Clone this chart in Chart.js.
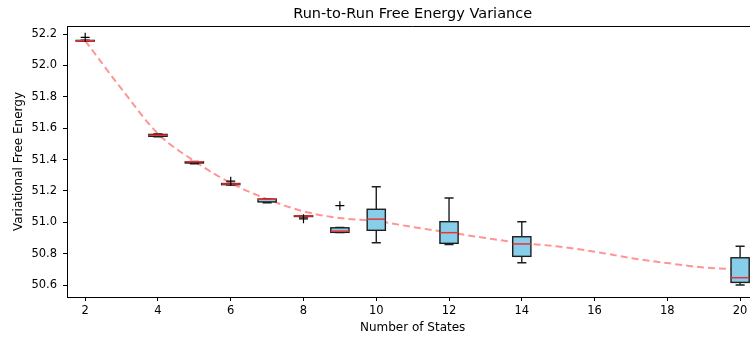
<!DOCTYPE html>
<html>
<head>
<meta charset="utf-8">
<title>Run-to-Run Free Energy Variance</title>
<script src="https://cdn.jsdelivr.net/npm/chart.js@4/dist/chart.umd.min.js"></script>
<style>
    body { margin: 0; overflow: hidden; background: #fff; }
    canvas { display: block; }
</style>
</head>
<body>
<canvas id="varianceChart" width="764" height="340"></canvas>
<script>
// Posisi box (jumlah state)
const states = [2, 4, 5, 6, 7, 8, 9, 10, 12, 14, 20];

// Statistik box plot per state
const whiskerLow  = [52.157, 51.545, 51.373, 51.238, 51.125, 51.033, 50.934, 50.870, 50.858, 50.742, 50.600];
const quart1      = [52.155, 51.548, 51.378, 51.240, 51.130, 51.037, 50.936, 50.949, 50.866, 50.783, 50.617];
const medians     = [52.157, 51.555, 51.386, 51.244, 51.147, 51.040, 50.944, 51.020, 50.934, 50.862, 50.647];
const quart3      = [52.159, 51.560, 51.386, 51.247, 51.148, 51.041, 50.965, 51.083, 51.004, 50.908, 50.774];
const whiskerHigh = [52.160, 51.563, 51.388, 51.248, 51.148, 51.041, 50.967, 51.227, 51.155, 51.004, 50.847];

// Outlier (tanda +)
const flierX = [2, 6, 8, 9];
const flierY = [52.179, 51.262, 51.022, 51.106];

// Kurva fit (garis putus-putus merah)
const fitX = [2, 3, 4, 5, 6, 7, 8, 9, 10, 11, 12, 13, 14, 15, 16, 17, 18, 19, 20];
const fitY = [52.157, 51.850, 51.565, 51.390, 51.250, 51.148, 51.070, 51.027, 51.008, 50.970,
              50.935, 50.900, 50.868, 50.846, 50.813, 50.772, 50.740, 50.712, 50.699];

// Label tick
const xTicks = [2, 4, 6, 8, 10, 12, 14, 16, 18, 20];
const yTicks = [50.6, 50.8, 51.0, 51.2, 51.4, 51.6, 51.8, 52.0, 52.2];

const FONT = "'DejaVu Sans', sans-serif";
const BOX_WIDTH = 0.5;

// Plugin untuk menggambar box plot lewat skala chart
const boxPlotPlugin = {
    id: 'boxPlot',
    afterDatasetDraw(chart, args) {
        if (args.index !== 1) return; // gambar box setelah kurva fit
        const ctx = chart.ctx;
        const xs = chart.scales.x;
        const ys = chart.scales.y;
        ctx.save();
        states.forEach((s, i) => {
            const left = xs.getPixelForValue(s - BOX_WIDTH / 2);
            const right = xs.getPixelForValue(s + BOX_WIDTH / 2);
            const capL = xs.getPixelForValue(s - BOX_WIDTH / 4);
            const capR = xs.getPixelForValue(s + BOX_WIDTH / 4);
            const cx = xs.getPixelForValue(s);
            const yLo = ys.getPixelForValue(whiskerLow[i]);
            const yQ1 = ys.getPixelForValue(quart1[i]);
            const yMed = ys.getPixelForValue(medians[i]);
            const yQ3 = ys.getPixelForValue(quart3[i]);
            const yHi = ys.getPixelForValue(whiskerHigh[i]);

            ctx.strokeStyle = '#1e1e1e';
            ctx.lineWidth = 1.4;

            // whisker + cap
            ctx.beginPath();
            ctx.moveTo(cx, yQ1); ctx.lineTo(cx, yLo);
            ctx.moveTo(cx, yQ3); ctx.lineTo(cx, yHi);
            ctx.moveTo(capL, yLo); ctx.lineTo(capR, yLo);
            ctx.moveTo(capL, yHi); ctx.lineTo(capR, yHi);
            ctx.stroke();

            // box
            ctx.fillStyle = '#87ceeb';
            ctx.fillRect(left, yQ3, right - left, yQ1 - yQ3);
            ctx.strokeRect(left, yQ3, right - left, yQ1 - yQ3);

            // median
            ctx.strokeStyle = '#ee3030';
            ctx.lineWidth = 1.5;
            ctx.beginPath();
            ctx.moveTo(left, yMed); ctx.lineTo(right, yMed);
            ctx.stroke();
        });
        ctx.restore();
    }
};

// Plugin untuk garis tepi atas dan kanan (seperti matplotlib)
const framePlugin = {
    id: 'frame',
    afterDraw(chart) {
        const {ctx, chartArea} = chart;
        ctx.save();
        ctx.strokeStyle = '#000';
        ctx.lineWidth = 1;
        ctx.beginPath();
        ctx.moveTo(chartArea.left, Math.round(chartArea.top) + 0.5);
        ctx.lineTo(chartArea.right, Math.round(chartArea.top) + 0.5);
        ctx.lineTo(chartArea.right, chartArea.bottom);
        ctx.stroke();
        ctx.restore();
    }
};

const config = {
    type: 'line',
    data: {
        datasets: [
            {
                type: 'scatter',
                label: 'Outlier',
                data: flierX.map((x, i) => ({ x: x, y: flierY[i] })),
                pointStyle: 'cross',
                pointRadius: 4.5,
                borderColor: '#000',
                borderWidth: 1.2,
                backgroundColor: '#000',
            },
            {
                label: 'Fit',
                data: fitX.map((x, i) => ({ x: x, y: fitY[i] })),
                borderColor: 'rgba(255, 0, 0, 0.42)',
                borderWidth: 2,
                borderDash: [7, 4],
                pointRadius: 0,
                fill: false,
                cubicInterpolationMode: 'monotone',
            },
        ],
    },
    options: {
        responsive: false,
        animation: false,
        devicePixelRatio: 1,
        layout: { padding: { left: 0, right: 1, top: 0, bottom: 0 } },
        plugins: {
            legend: { display: false },
            tooltip: { enabled: false },
            title: {
                display: true,
                text: 'Run-to-Run Free Energy Variance',
                fullSize: false,
                color: '#000',
                font: { family: FONT, size: 14.5, weight: 'normal' },
                padding: { top: 5.3, bottom: 3.3 },
            },
        },
        scales: {
            x: {
                type: 'linear',
                min: 1.5,
                max: 20.5,
                afterBuildTicks: (scale) => { scale.ticks = xTicks.map(v => ({ value: v })); },
                afterFit: (scale) => { scale.height = 43; },
                ticks: {
                    color: '#000',
                    font: { family: FONT, size: 11.5 },
                    padding: 3,
                    maxRotation: 0,
                    callback: (v) => String(v),
                },
                grid: { drawOnChartArea: false, drawTicks: true, tickLength: 4, color: '#000' },
                border: { display: true, color: '#000', width: 1 },
                title: {
                    display: true,
                    text: 'Number of States',
                    color: '#000',
                    font: { family: FONT, size: 12 },
                    padding: { top: 0, bottom: 4.8 },
                },
            },
            y: {
                type: 'linear',
                min: 50.524,
                max: 52.251,
                afterBuildTicks: (scale) => { scale.ticks = yTicks.map(v => ({ value: v })); },
                afterFit: (scale) => { scale.width = 67; },
                ticks: {
                    color: '#000',
                    font: { family: FONT, size: 11.5 },
                    padding: 6,
                    callback: (v) => Number(v).toFixed(1),
                },
                grid: { drawOnChartArea: false, drawTicks: true, tickLength: 4, color: '#000' },
                border: { display: true, color: '#000', width: 1 },
                title: {
                    display: true,
                    text: 'Variational Free Energy',
                    color: '#000',
                    font: { family: FONT, size: 12 },
                    padding: { top: 11.3, bottom: 0 },
                },
            },
        },
    },
    plugins: [boxPlotPlugin, framePlugin],
};

// Render grafik di elemen canvas
const ctx = document.getElementById('varianceChart').getContext('2d');
new Chart(ctx, config);
</script>
</body>
</html>
